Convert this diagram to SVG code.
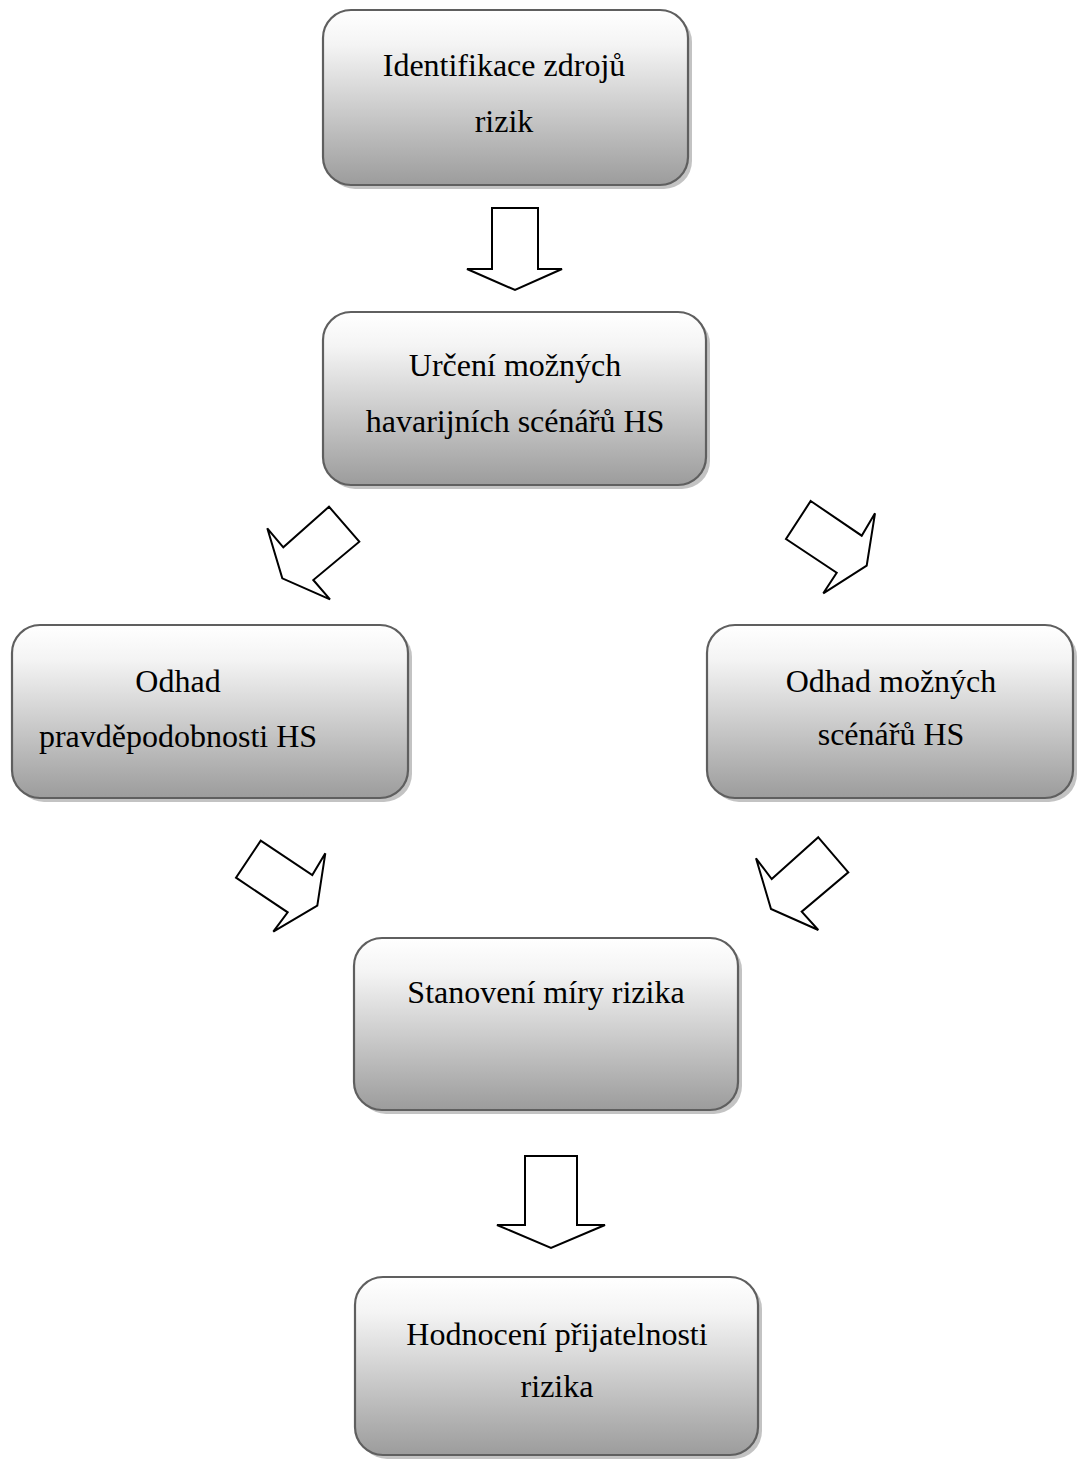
<svg xmlns="http://www.w3.org/2000/svg" width="1078" height="1461" viewBox="0 0 1078 1461">
<defs>
<linearGradient id="g" x1="0" y1="0" x2="0" y2="1">
<stop offset="0" stop-color="#ffffff"/>
<stop offset="0.2" stop-color="#f4f4f4"/>
<stop offset="1" stop-color="#9c9c9c"/>
</linearGradient>
<style>
.box{fill:url(#g);stroke:#5f5f5f;stroke-width:2.2}
.sh{fill:#b4b4b4;opacity:0.8}
.t{font-family:"Liberation Serif","Times New Roman",serif;font-size:32px;fill:#000;text-anchor:middle}
.ar{fill:#fff;stroke:#000;stroke-width:2;stroke-linejoin:miter}
</style>
</defs>
<rect width="1078" height="1461" fill="#fff"/>
<g id="n1">
<rect class="sh" x="327" y="14" width="365" height="175" rx="28"/>
<rect class="box" x="323" y="10" width="365" height="175" rx="28"/>
<text class="t" x="504" y="76">Identifikace zdrojů</text>
<text class="t" x="504" y="132">rizik</text>
</g>
<g id="n2">
<rect class="sh" x="327" y="316" width="383" height="173" rx="28"/>
<rect class="box" x="323" y="312" width="383" height="173" rx="28"/>
<text class="t" x="515" y="376">Určení možných</text>
<text class="t" x="515" y="432">havarijních scénářů HS</text>
</g>
<g id="n3">
<rect class="sh" x="16" y="629" width="396" height="173" rx="28"/>
<rect class="box" x="12" y="625" width="396" height="173" rx="28"/>
<text class="t" x="178" y="692">Odhad</text>
<text class="t" x="178" y="747">pravděpodobnosti HS</text>
</g>
<g id="n4">
<rect class="sh" x="711" y="629" width="366" height="173" rx="28"/>
<rect class="box" x="707" y="625" width="366" height="173" rx="28"/>
<text class="t" x="891" y="692">Odhad možných</text>
<text class="t" x="891" y="745">scénářů HS</text>
</g>
<g id="n5">
<rect class="sh" x="358" y="942" width="384" height="172" rx="28"/>
<rect class="box" x="354" y="938" width="384" height="172" rx="28"/>
<text class="t" x="546" y="1003">Stanovení míry rizika</text>
</g>
<g id="n6">
<rect class="sh" x="359" y="1281" width="403" height="178" rx="28"/>
<rect class="box" x="355" y="1277" width="403" height="178" rx="28"/>
<text class="t" x="557" y="1345">Hodnocení přijatelnosti</text>
<text class="t" x="557" y="1397">rizika</text>
</g>
<g id="connectors">
<polygon class="ar" points="492,208 538,208 538,269 562,269 515,290 467,269 492,269"/>
<polygon class="ar" points="329,506.7 359.3,541.7 313.3,580 330,599.3 282.3,578.3 267.3,528.3 283.3,547.3"/>
<polygon class="ar" points="810.7,501 861.7,535.7 875,513.3 866.7,565.7 823.3,593.3 836.7,572.7 786,539"/>
<polygon class="ar" points="260.7,840.7 312.3,875 325.3,853.3 317.3,905.7 273.3,931.7 287.7,912.3 236,877.7"/>
<polygon class="ar" points="818.3,837.3 848.3,872.3 801.7,911.7 818.3,930 771,909 756,858.3 771.7,879"/>
<polygon class="ar" points="525,1156 577,1156 577,1225 605,1225 551,1248 497,1225 525,1225"/>
</g>
</svg>
